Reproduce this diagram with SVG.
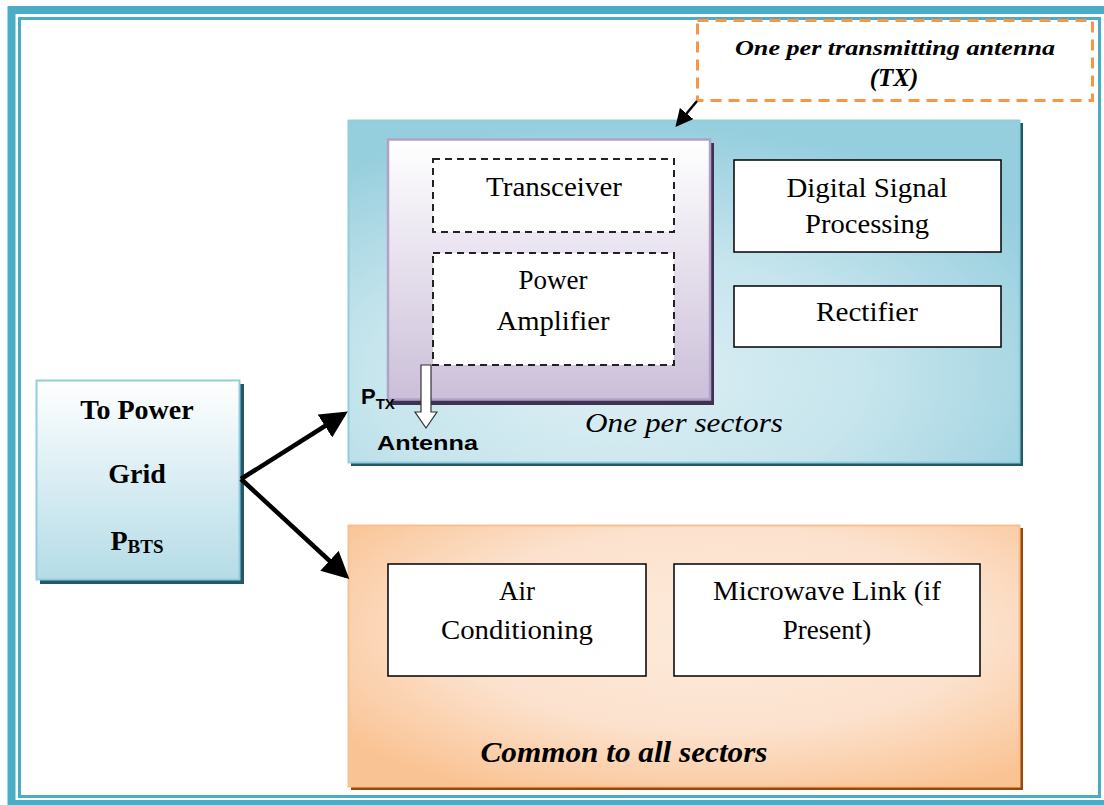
<svg xmlns="http://www.w3.org/2000/svg" width="1104" height="805" viewBox="0 0 1104 805">
<defs>
<style>
.lbl{font-family:"Liberation Serif","Times New Roman",serif;font-size:27px;fill:#000;text-anchor:middle}
.box{fill:#fff;stroke:#000;stroke-width:1.5}
.dash{fill:#fff;stroke:#222;stroke-width:2;stroke-dasharray:7 5}
.conn{stroke:#000;stroke-width:4.5;fill:none}
.bi{font-family:"Liberation Serif","Times New Roman",serif;font-weight:bold;font-style:italic;text-anchor:middle}
.bs{font-family:"Liberation Serif","Times New Roman",serif;font-weight:bold;text-anchor:middle;font-size:28px}
</style>
<marker id="ah" markerWidth="6" markerHeight="6" refX="5" refY="3" orient="auto" markerUnits="strokeWidth">
<path d="M0,0 L6,3 L0,6 Z" fill="#000"/>
</marker>
<marker id="ah2" markerWidth="7" markerHeight="7" refX="6" refY="3.5" orient="auto" markerUnits="strokeWidth">
<path d="M0,0 L7,3.5 L0,7 Z" fill="#000"/>
</marker>
<radialGradient id="gBlue" cx="0.4" cy="0.75" r="0.75">
<stop offset="0" stop-color="#DDEFF4"/>
<stop offset="0.5" stop-color="#C6E5ED"/>
<stop offset="1" stop-color="#95CEDD"/>
</radialGradient>
<linearGradient id="gPurple" x1="0" y1="0" x2="0" y2="1">
<stop offset="0" stop-color="#FFFFFF"/>
<stop offset="1" stop-color="#CBBFD9"/>
</linearGradient>
<radialGradient id="gOrange" cx="0.55" cy="0.4" r="0.7">
<stop offset="0" stop-color="#FDEADB"/>
<stop offset="0.55" stop-color="#FCE2CE"/>
<stop offset="1" stop-color="#FAC393"/>
</radialGradient>
<linearGradient id="gLeft" x1="0" y1="0" x2="0" y2="1">
<stop offset="0" stop-color="#FFFFFF"/>
<stop offset="1" stop-color="#B4DCE7"/>
</linearGradient>
</defs>
<rect width="1104" height="805" fill="#fff"/>
<g id="frame">
<rect x="11.5" y="10" width="1104" height="794" fill="none" stroke="#4BACC6" stroke-width="8"/>
<rect x="19.5" y="18.5" width="1080" height="778" fill="none" stroke="#4BACC6" stroke-width="3"/>
</g>
<g id="tx-note">
<rect x="697.5" y="20.5" width="395" height="80" fill="#fff" stroke="#F79646" stroke-width="3" stroke-dasharray="11 7"/>
<text class="bi" x="895" y="55" font-size="22" textLength="320" lengthAdjust="spacingAndGlyphs">One per transmitting antenna</text>
<text class="bi" x="894" y="86" font-size="25">(TX)</text>
</g>
<g id="sector-panel">
<rect x="351" y="123" width="672" height="343" fill="#215968"/>
<rect x="348.5" y="120.5" width="671" height="342" fill="url(#gBlue)" stroke="#92CDDC" stroke-width="2"/>
<text x="684" y="432" font-family="Liberation Serif, serif" font-size="27" font-style="italic" text-anchor="middle" textLength="198" lengthAdjust="spacingAndGlyphs">One per sectors</text>
</g>
<g id="tx-panel">
<rect x="391" y="143" width="323" height="262" fill="#3F3151"/>
<rect x="388" y="139.5" width="322" height="260" fill="url(#gPurple)" stroke="#B2A1C7" stroke-width="2.5"/>
</g>
<g id="transceiver">
<rect class="dash" x="433" y="159" width="241" height="73"/>
<text class="lbl" x="554" y="196" textLength="136" lengthAdjust="spacingAndGlyphs">Transceiver</text>
</g>
<g id="power-amplifier">
<rect class="dash" x="433" y="253" width="241" height="112"/>
<text class="lbl" x="553" y="289">Power</text>
<text class="lbl" x="553" y="330" textLength="113" lengthAdjust="spacingAndGlyphs">Amplifier</text>
</g>
<g id="dsp">
<rect class="box" x="734" y="160" width="267" height="92"/>
<text class="lbl" x="867" y="197" textLength="161" lengthAdjust="spacingAndGlyphs">Digital Signal</text>
<text class="lbl" x="867" y="233" textLength="124" lengthAdjust="spacingAndGlyphs">Processing</text>
</g>
<g id="rectifier">
<rect class="box" x="734" y="286" width="267" height="61"/>
<text class="lbl" x="867" y="321" textLength="102" lengthAdjust="spacingAndGlyphs">Rectifier</text>
</g>
<g id="antenna">
<path d="M421,365 L431,365 L431,412 L437,412 L426,428 L415,412 L421,412 Z" fill="#fff" stroke="#333" stroke-width="1.2"/>
<text x="361" y="404" font-family="Liberation Sans, Arial, sans-serif" font-size="22" font-weight="bold">P<tspan font-size="15" dy="5">TX</tspan></text>
<text x="377" y="450" font-family="Liberation Sans, Arial, sans-serif" font-size="21" font-weight="bold" textLength="101" lengthAdjust="spacingAndGlyphs">Antenna</text>
</g>
<g id="power-grid">
<rect x="40" y="384" width="204" height="200" fill="#215968"/>
<rect x="36.5" y="380.5" width="203" height="199" fill="url(#gLeft)" stroke="#92CDDC" stroke-width="2"/>
<text class="bs" x="137" y="419">To Power</text>
<text class="bs" x="137" y="483">Grid</text>
<text class="bs" x="137" y="550">P<tspan font-size="19" dy="3">BTS</tspan></text>
</g>
<g id="common-panel">
<rect x="351" y="528" width="672" height="262" fill="#984807"/>
<rect x="348.5" y="525.5" width="671" height="261" fill="url(#gOrange)" stroke="#FABF8F" stroke-width="2"/>
<text class="bi" x="624" y="762" font-size="30" textLength="287" lengthAdjust="spacingAndGlyphs">Common to all sectors</text>
</g>
<g id="air-conditioning">
<rect class="box" x="388" y="564" width="258" height="112"/>
<text class="lbl" x="517" y="600">Air</text>
<text class="lbl" x="517" y="639" textLength="152" lengthAdjust="spacingAndGlyphs">Conditioning</text>
</g>
<g id="microwave">
<rect class="box" x="674" y="564" width="306" height="112"/>
<text class="lbl" x="827" y="600" textLength="228" lengthAdjust="spacingAndGlyphs">Microwave Link (if</text>
<text class="lbl" x="827" y="639">Present)</text>
</g>
<g id="connectors">
<path class="conn" d="M241,479 L344,414" marker-end="url(#ah)"/>
<path class="conn" d="M241,479 L346,576" marker-end="url(#ah)"/>
<path d="M697,101 L677,125" stroke="#000" stroke-width="2.5" fill="none" marker-end="url(#ah2)"/>
</g>
</svg>
